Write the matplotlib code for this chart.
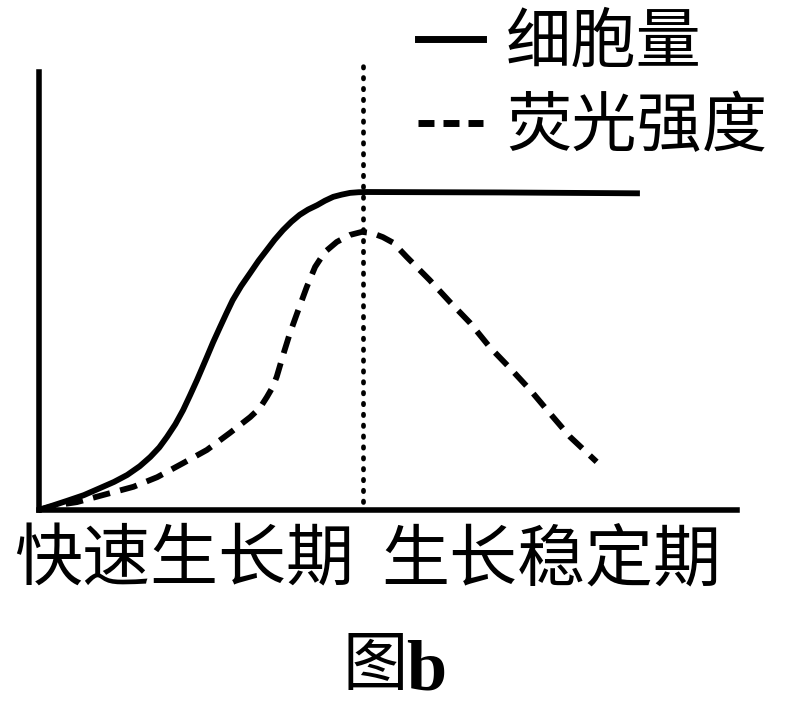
import matplotlib
matplotlib.use("Agg")
import matplotlib.pyplot as plt
from matplotlib.lines import Line2D

plt.rcParams['font.family'] = ['Noto Sans CJK SC', 'DejaVu Sans']

# data (time in arbitrary units 0-10, value 0-100)
cell_x = [0, 0.20, 0.41, 0.65, 0.88, 1.08, 1.27, 1.45, 1.60, 1.73, 1.84, 1.96,
          2.07, 2.17, 2.27, 2.34, 2.41, 2.50, 2.60, 2.69, 2.78, 2.90, 3.03,
          3.15, 3.27, 3.38, 3.50, 3.62, 3.74, 3.86, 3.99, 4.10, 4.22, 4.34,
          4.46, 4.58, 4.70, 6.61, 8.61]
cell_y = [0, 1.0, 2.1, 3.4, 5.0, 6.4, 8.0, 10.0, 12.1, 14.3, 16.7, 19.6,
          22.8, 26.2, 29.7, 32.3, 34.9, 38.3, 41.8, 44.9, 47.9, 51.1, 54.1,
          56.9, 59.4, 61.7, 63.9, 65.8, 67.4, 68.6, 69.6, 70.6, 71.5, 72.0,
          72.4, 72.55, 72.6, 72.5, 72.3]

fl_x = [0, 0.26, 0.55, 0.92, 1.36, 1.70, 2.07, 2.41, 2.74, 3.03, 3.17, 3.27,
        3.35, 3.41, 3.51, 3.60, 3.72, 3.84, 3.96, 4.10, 4.27, 4.46, 4.63,
        4.78, 4.93, 5.08, 5.27, 5.60, 5.89, 6.18, 6.46, 6.75, 7.04, 7.32,
        7.61, 7.99]
fl_y = [0, 1.1, 1.8, 3.4, 5.3, 7.5, 10.7, 13.7, 17.6, 21.2, 23.3, 25.8,
        28.0, 30.4, 35.8, 40.4, 45.7, 50.9, 55.5, 58.9, 61.2, 62.8, 63.5,
        63.2, 62.3, 61.0, 57.8, 52.5, 47.5, 42.7, 37.2, 32.4, 27.4, 22.1,
        16.7, 11.0]

divider_x = 4.65
divider_y = [1.8, 102.3]

labels = ['细胞量', '荧光强度']
phase_labels = ['快速生长期', '生长稳定期']
title_cn = '图'
title_b = 'b'

W, H = 802, 710
fig = plt.figure(figsize=(W / 100, H / 100), dpi=100)
ax = fig.add_axes([38.5 / W, 1 - 510 / H, (737 - 38.5) / W, (510 - 72) / H])
ax.set_xlim(0, 10)
ax.set_ylim(0, 100)
ax.set_xticks([])
ax.set_yticks([])
for s in ['top', 'right']:
    ax.spines[s].set_visible(False)
for s in ['left', 'bottom']:
    ax.spines[s].set_linewidth(4)
    ax.spines[s].set_color('black')

l1, = ax.plot(cell_x, cell_y, color='black', lw=4.2, solid_capstyle='butt',
              solid_joinstyle='round', clip_on=False)
l2, = ax.plot(fl_x, fl_y, color='black', lw=4.2, linestyle=(0, (3.0, 1.8)),
              dash_capstyle='butt', dash_joinstyle='round', clip_on=False)
ax.plot([divider_x, divider_x], divider_y, color='black', lw=3.4,
        linestyle=(0, (0.3, 2.0)), dash_capstyle='round', clip_on=False)

h1 = Line2D([], [], color='black', lw=5)
h2 = Line2D([], [], color='black', lw=5, linestyle=(0, (2.3, 1.3)))
leg = fig.legend([h1, h2], labels, loc='upper left',
                 bbox_to_anchor=(418 / W, 1 - 10 / H), frameon=False,
                 fontsize=47, handlelength=1.0, handletextpad=0.35,
                 labelspacing=0.27, borderpad=0, borderaxespad=0)

fig.text(184 / W, 1 - 561 / H, phase_labels[0], fontsize=49, ha='center', va='center')
fig.text(551 / W, 1 - 561 / H, phase_labels[1], fontsize=49, ha='center', va='center')
fig.text(375 / W, 1 - 667 / H, title_cn, fontsize=47, ha='center', va='center')
fig.text(406 / W, 1 - 689 / H, title_b, fontsize=52, ha='left', va='baseline',
         family='Liberation Serif', weight='bold')

fig.savefig('out.png', dpi=100)
